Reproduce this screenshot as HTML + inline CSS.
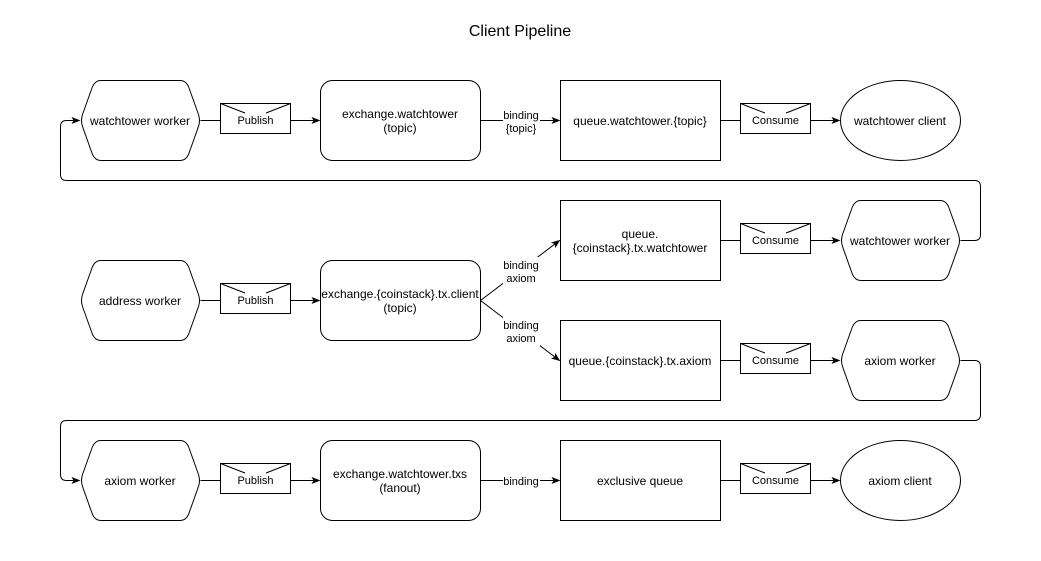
<!DOCTYPE html>
<html><head><meta charset="utf-8"><style>
html,body{margin:0;padding:0;background:#fff;}
svg{display:block;font-family:"Liberation Sans",Arial,sans-serif;}
</style></head><body>
<svg width="1041" height="561" viewBox="0 0 1041 561" xmlns="http://www.w3.org/2000/svg">
<defs>
<marker id="a" markerWidth="10" markerHeight="10" refX="8" refY="5" orient="auto" markerUnits="userSpaceOnUse">
<path d="M0,1.5 L9,5 L0,8.5 L2,5 Z" fill="#000"/>
</marker>
</defs>
<g fill="none" stroke="#000" stroke-width="1">
<!-- hexagons -->
<g stroke-linejoin="round">
<path d="M100,80 L180,80 Q185,80 188,86 L198,114 Q200,120 198,126 L188,154 Q185,160 180,160 L100,160 Q95,160 92,154 L82,126 Q80,120 82,114 L92,86 Q95,80 100,80 Z" transform="translate(0.5,0.5)"/>
<path d="M100,80 L180,80 Q185,80 188,86 L198,114 Q200,120 198,126 L188,154 Q185,160 180,160 L100,160 Q95,160 92,154 L82,126 Q80,120 82,114 L92,86 Q95,80 100,80 Z" transform="translate(0.5,180.5)"/>
<path d="M100,80 L180,80 Q185,80 188,86 L198,114 Q200,120 198,126 L188,154 Q185,160 180,160 L100,160 Q95,160 92,154 L82,126 Q80,120 82,114 L92,86 Q95,80 100,80 Z" transform="translate(0.5,360.5)"/>
<path d="M100,80 L180,80 Q185,80 188,86 L198,114 Q200,120 198,126 L188,154 Q185,160 180,160 L100,160 Q95,160 92,154 L82,126 Q80,120 82,114 L92,86 Q95,80 100,80 Z" transform="translate(760.5,120.5)"/>
<path d="M100,80 L180,80 Q185,80 188,86 L198,114 Q200,120 198,126 L188,154 Q185,160 180,160 L100,160 Q95,160 92,154 L82,126 Q80,120 82,114 L92,86 Q95,80 100,80 Z" transform="translate(760.5,240.5)"/>
</g>
<!-- ellipses -->
<ellipse cx="900.5" cy="120.5" rx="60" ry="40"/>
<ellipse cx="900.5" cy="480.5" rx="60" ry="40"/>
<!-- rounded rects -->
<rect x="320.5" y="80.5" width="160" height="80" rx="12"/>
<rect x="320.5" y="260.5" width="160" height="80" rx="12"/>
<rect x="320.5" y="440.5" width="160" height="80" rx="12"/>
<!-- rects -->
<rect x="560.5" y="80.5" width="160" height="80"/>
<rect x="560.5" y="200.5" width="160" height="80"/>
<rect x="560.5" y="320.5" width="160" height="80"/>
<rect x="560.5" y="440.5" width="160" height="80"/>
<!-- envelopes -->
<g id="env">
<rect x="220.5" y="103.5" width="70" height="30"/>
<path d="M220.5,103.5 L245,113 M290.5,103.5 L266,113"/>
</g>
<use href="#env" x="0" y="180"/>
<use href="#env" x="0" y="360"/>
<use href="#env" x="520" y="0"/>
<use href="#env" x="520" y="120"/>
<use href="#env" x="520" y="240"/>
<use href="#env" x="520" y="360"/>
<!-- connectors -->
<g id="row">
<path d="M200.5,120.5 H220.5"/>
<path d="M290.5,120.5 H319.5" marker-end="url(#a)"/>
<path d="M720.5,120.5 H740.5"/>
<path d="M810.5,120.5 H839.5" marker-end="url(#a)"/>
</g>
<use href="#row" x="0" y="360"/>
<path d="M200.5,300.5 H220.5"/>
<path d="M290.5,300.5 H319.5" marker-end="url(#a)"/>
<path d="M720.5,240.5 H740.5"/>
<path d="M810.5,240.5 H839.5" marker-end="url(#a)"/>
<path d="M720.5,360.5 H740.5"/>
<path d="M810.5,360.5 H839.5" marker-end="url(#a)"/>
<path d="M480.5,120.5 H559.5" marker-end="url(#a)"/>
<path d="M480.5,480.5 H559.5" marker-end="url(#a)"/>
<path d="M480.5,300.5 L559.5,240.5" marker-end="url(#a)"/>
<path d="M480.5,300.5 L559.5,360.5" marker-end="url(#a)"/>
<!-- loops -->
<path d="M960.5,240.5 H974.5 Q980.5,240.5 980.5,234.5 V186.5 Q980.5,180.5 974.5,180.5 H66.5 Q60.5,180.5 60.5,174.5 V126.5 Q60.5,120.5 66.5,120.5 H79.5" marker-end="url(#a)"/>
<path d="M960.5,360.5 H974.5 Q980.5,360.5 980.5,366.5 V414.5 Q980.5,420.5 974.5,420.5 H66.5 Q60.5,420.5 60.5,426.5 V474.5 Q60.5,480.5 66.5,480.5 H79.5" marker-end="url(#a)"/>
</g>
<!-- label backgrounds -->
<g fill="#fff">
<rect x="503" y="106" width="37" height="29"/>
<rect x="503" y="257" width="37" height="29"/>
<rect x="503" y="317" width="37" height="29"/>
<rect x="503" y="472" width="37" height="16"/>
</g>
<g font-size="12" text-anchor="middle" fill="#000">
<text x="520" y="36" font-size="16">Client Pipeline</text>
<text x="140" y="125">watchtower worker</text>
<text x="140" y="305">address worker</text>
<text x="140" y="485">axiom worker</text>
<text x="900" y="245">watchtower worker</text>
<text x="900" y="365">axiom worker</text>
<text x="900" y="125">watchtower client</text>
<text x="900" y="485">axiom client</text>
<text x="400" y="118">exchange.watchtower</text>
<text x="400" y="132">(topic)</text>
<text x="400" y="298">exchange.{coinstack}.tx.client</text>
<text x="400" y="312">(topic)</text>
<text x="400" y="478">exchange.watchtower.txs</text>
<text x="400" y="492">(fanout)</text>
<text x="640" y="125">queue.watchtower.{topic}</text>
<text x="640" y="238">queue.</text>
<text x="640" y="252">{coinstack}.tx.watchtower</text>
<text x="640" y="365">queue.{coinstack}.tx.axiom</text>
<text x="640" y="485">exclusive queue</text>
<g font-size="11">
<text x="255.5" y="124">Publish</text>
<text x="255.5" y="304">Publish</text>
<text x="255.5" y="484">Publish</text>
<text x="775.5" y="124">Consume</text>
<text x="775.5" y="244">Consume</text>
<text x="775.5" y="364">Consume</text>
<text x="775.5" y="484">Consume</text>
<text x="521" y="119">binding</text>
<text x="521" y="132">{topic}</text>
<text x="521" y="269">binding</text>
<text x="521" y="282">axiom</text>
<text x="521" y="329">binding</text>
<text x="521" y="342">axiom</text>
<text x="521" y="485">binding</text>
</g>
</g>
</svg>
</body></html>
